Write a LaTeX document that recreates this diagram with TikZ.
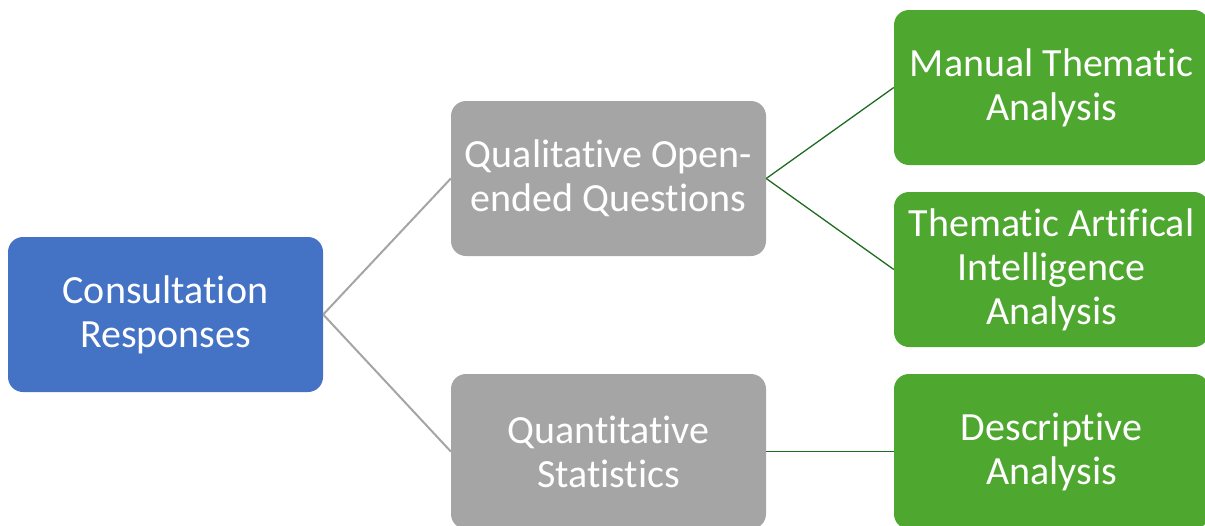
\documentclass[tikz,border=0pt]{standalone}
\usepackage{fontspec}
\setmainfont[Ligatures={NoCommon}]{Carlito}
\definecolor{cblue}{HTML}{4472C4}
\definecolor{cgray}{HTML}{A5A5A5}
\definecolor{cgreen}{HTML}{4EA72E}
\definecolor{lgreen}{HTML}{1F6B1F}
\begin{document}
\begin{tikzpicture}[x=1pt,y=-1pt,
  box/.style={rounded corners=15pt, minimum width=315pt, minimum height=155pt,
    inner sep=0pt, text=white, align=center, font=\fontsize{40}{44}\selectfont},
  bluebox/.style={box, fill=cblue},
  graybox/.style={box, fill=cgray},
  greenbox/.style={box, fill=cgreen},
  grayline/.style={draw=cgray, line width=2pt},
  greenline/.style={draw=lgreen, line width=1.3pt}]
\useasboundingbox (0,0) rectangle (1205,525);
\clip (0,0) rectangle (1205,525);
\node[bluebox] (cr) at (165.5,314.5) {Consultation\\Responses};
\node[graybox] (qo) at (608.5,178.5) {Qualitative Open-\\ended Questions};
\node[graybox] (qs) at (608.5,451.5) {Quantitative\\Statistics};
\node[greenbox] (mt) at (1051.5,87.5) {Manual Thematic\\Analysis};
\node[greenbox] (ta) at (1051.5,269.5) {Thematic Artifical\\Intelligence\\Analysis};
\node[greenbox] (da) at (1051.5,451.5) {Descriptive\\Analysis};
\draw[grayline] (cr.east) -- (qo.west);
\draw[grayline] (cr.east) -- (qs.west);
\draw[greenline] (qo.east) -- (mt.west);
\draw[greenline] (qo.east) -- (ta.west);
\draw[greenline] (qs.east) -- (da.west);
\end{tikzpicture}
\end{document}
